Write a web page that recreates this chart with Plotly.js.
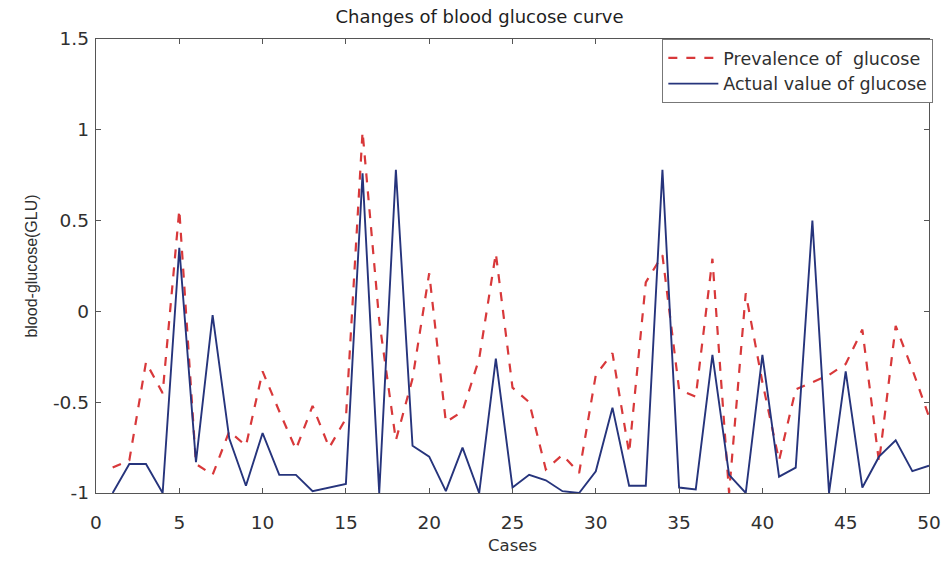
<!DOCTYPE html>
<html>
<head>
<meta charset="utf-8">
<script src="https://cdn.plot.ly/plotly-3.0.1.min.js"></script>
<style>html,body{margin:0;padding:0;background:#fff;}#chart{width:944px;height:563px;}</style>
</head>
<body>
<div id="chart"></div>
<script>
const cases = Array.from({length: 50}, (_, i) => i + 1);
const prevalence = [-0.86, -0.82, -0.28, -0.45, 0.56, -0.84, -0.9, -0.66, -0.74, -0.33,
  -0.55, -0.76, -0.52, -0.75, -0.59, 0.99, -0.05, -0.71, -0.37, 0.21,
  -0.61, -0.55, -0.26, 0.32, -0.42, -0.5, -0.87, -0.79, -0.89, -0.35,
  -0.23, -0.78, 0.16, 0.31, -0.43, -0.47, 0.29, -1.0, 0.1, -0.39,
  -0.82, -0.43, -0.39, -0.35, -0.29, -0.1, -0.83, -0.08, -0.32, -0.58];
const actual = [-1.0, -0.84, -0.84, -1.0, 0.35, -0.83, -0.02, -0.7, -0.96, -0.67,
  -0.9, -0.9, -0.99, -0.97, -0.95, 0.76, -1.0, 0.78, -0.74, -0.8,
  -0.99, -0.75, -1.0, -0.26, -0.97, -0.9, -0.93, -0.99, -1.0, -0.88,
  -0.53, -0.96, -0.96, 0.78, -0.97, -0.98, -0.24, -0.9, -1.0, -0.24,
  -0.91, -0.86, 0.5, -1.0, -0.33, -0.97, -0.8, -0.71, -0.88, -0.85];
const xTicks = [0, 5, 10, 15, 20, 25, 30, 35, 40, 45, 50];
const yTicks = [-1, -0.5, 0, 0.5, 1, 1.5];
const yTickLabels = ['-1', '-0.5', '0', '0.5', '1', '1.5'];
const seriesNames = ['Prevalence of  glucose', 'Actual value of glucose'];

const wide = 'DejaVu Sans, Verdana, sans-serif';
const narrow = 'Liberation Sans, Arial, sans-serif';
const textColor = '#303030';

const traces = [
  {x: cases, y: prevalence, name: seriesNames[0], type: 'scatter', mode: 'lines',
   line: {color: '#d8383a', width: 2.2, dash: 'dash'}},
  {x: cases, y: actual, name: seriesNames[1], type: 'scatter', mode: 'lines',
   line: {color: '#26347c', width: 1.9}}
];

const axisCommon = {
  showgrid: false, zeroline: false, showline: true, linecolor: '#555', linewidth: 1.3,
  mirror: 'allticks', ticks: 'inside', ticklen: 5, tickcolor: '#555', tickwidth: 1,
  tickfont: {family: wide, size: 18.5, color: textColor}
};

const layout = {
  width: 944, height: 563,
  margin: {l: 96, r: 14, t: 39, b: 70},
  paper_bgcolor: '#fff', plot_bgcolor: '#fff',
  font: {family: wide, size: 17, color: textColor},
  title: {text: 'Changes of blood glucose curve', font: {family: wide, size: 18, color: '#1e1e1e'},
          x: 0.508, xanchor: 'center', y: 0.971, yanchor: 'middle'},
  xaxis: Object.assign({}, axisCommon, {
    range: [0, 50], tickvals: xTicks, ticklabelstandoff: 12,
    title: {text: 'Cases', font: {family: wide, size: 16.5, color: textColor}, standoff: 8}
  }),
  yaxis: Object.assign({}, axisCommon, {
    range: [-1, 1.5], tickvals: yTicks, ticktext: yTickLabels, ticklabelstandoff: 2,
    title: {text: 'blood-glucose(GLU)', font: {family: narrow, size: 16, color: textColor}, standoff: 11}
  }),
  legend: {x: 1.004, y: 1, xanchor: 'right', yanchor: 'top', bgcolor: '#fff',
           bordercolor: '#777', borderwidth: 1, font: {family: wide, size: 17.5, color: textColor},
           tracegroupgap: 0, itemwidth: 50},
  showlegend: true
};

Plotly.newPlot('chart', traces, layout, {staticPlot: true, displayModeBar: false});
</script>
</body>
</html>
